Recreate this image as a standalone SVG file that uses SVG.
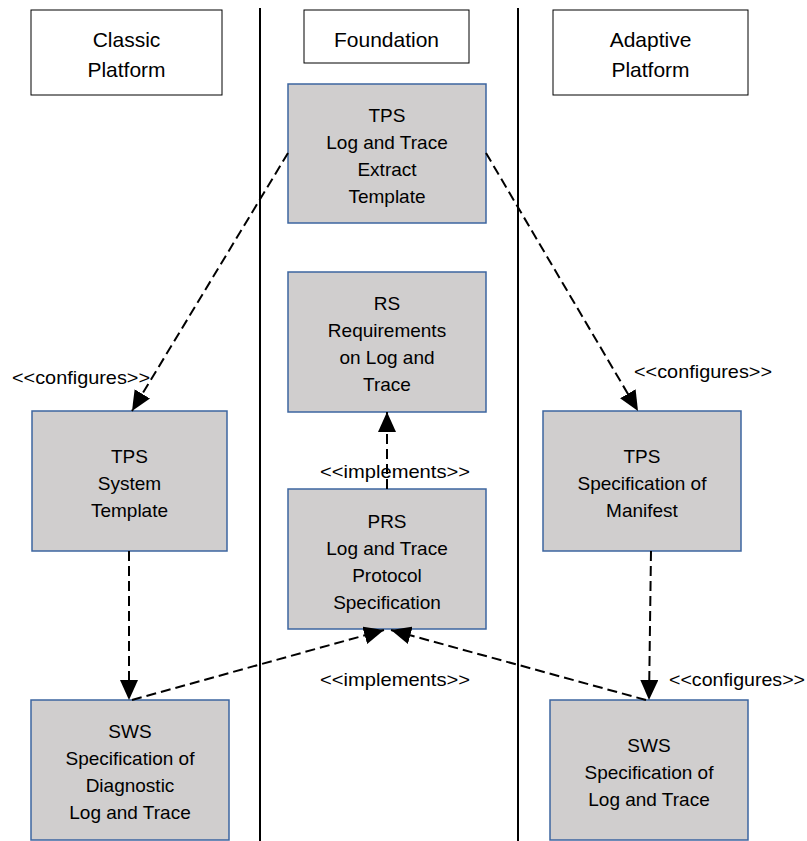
<svg xmlns="http://www.w3.org/2000/svg" width="807" height="841" viewBox="0 0 807 841">
<style>
.hdr{fill:#fff;stroke:#000;stroke-width:1}
.box{fill:#D0CECE;stroke:#3C65A0;stroke-width:1.5}
.t{font-family:"Liberation Sans","Open Sans",sans-serif;font-size:19px;fill:#000;text-anchor:middle}
.h{font-family:"Liberation Sans","Open Sans",sans-serif;font-size:21px;fill:#000;text-anchor:middle}
.lbl{font-family:"Liberation Sans","Open Sans",sans-serif;font-size:19px;fill:#000}
.c{fill:none;stroke:#000;stroke-width:2;stroke-dasharray:10 5}
.lane{stroke:#000;stroke-width:2}
</style>
<defs>
<marker id="ah" viewBox="0 0 20 18" refX="20" refY="9" markerWidth="20" markerHeight="18" markerUnits="userSpaceOnUse" orient="auto">
<path d="M0,0 L20,9 L0,18 Z" fill="#000"/>
</marker>
</defs>
<g id="lanes">
<line class="lane" x1="260" y1="8" x2="260" y2="841"/>
<line class="lane" x1="518" y1="8" x2="518" y2="841"/>
</g>
<g id="hdr-classic"><rect class="hdr" x="31" y="10" width="191" height="85"/><text class="h" x="126.5" y="47">Classic</text><text class="h" x="126.5" y="77">Platform</text></g>
<g id="hdr-foundation"><rect class="hdr" x="304" y="10" width="165" height="53"/><text class="h" x="386.5" y="47">Foundation</text></g>
<g id="hdr-adaptive"><rect class="hdr" x="553" y="10" width="195" height="85"/><text class="h" x="650.5" y="47">Adaptive</text><text class="h" x="650.5" y="77">Platform</text></g>

<g id="tps-extract"><rect class="box" x="288" y="84" width="198" height="139"/>
<text class="t" x="387" y="122">TPS</text><text class="t" x="387" y="149">Log and Trace</text><text class="t" x="387" y="176">Extract</text><text class="t" x="387" y="203">Template</text></g>
<g id="rs"><rect class="box" x="288" y="272" width="198" height="140"/>
<text class="t" x="387" y="310">RS</text><text class="t" x="387" y="337">Requirements</text><text class="t" x="387" y="364">on Log and</text><text class="t" x="387" y="391">Trace</text></g>
<g id="tps-system"><rect class="box" x="32" y="411" width="195" height="140"/>
<text class="t" x="129.5" y="463">TPS</text><text class="t" x="129.5" y="490">System</text><text class="t" x="129.5" y="517">Template</text></g>
<g id="prs"><rect class="box" x="288" y="489" width="198" height="140"/>
<text class="t" x="387" y="528">PRS</text><text class="t" x="387" y="555">Log and Trace</text><text class="t" x="387" y="582">Protocol</text><text class="t" x="387" y="609">Specification</text></g>
<g id="tps-manifest"><rect class="box" x="543" y="411" width="198" height="140"/>
<text class="t" x="642" y="463">TPS</text><text class="t" x="642" y="490">Specification of</text><text class="t" x="642" y="517">Manifest</text></g>
<g id="sws-diag"><rect class="box" x="31" y="700" width="198" height="140"/>
<text class="t" x="130" y="738">SWS</text><text class="t" x="130" y="765">Specification of</text><text class="t" x="130" y="792">Diagnostic</text><text class="t" x="130" y="819">Log and Trace</text></g>
<g id="sws-lt"><rect class="box" x="550" y="700" width="198" height="140"/>
<text class="t" x="649" y="752">SWS</text><text class="t" x="649" y="779">Specification of</text><text class="t" x="649" y="806">Log and Trace</text></g>

<g id="connectors">
<path class="c" d="M288,153 L132,411" marker-end="url(#ah)"/>
<path class="c" d="M486,153 L638,411" marker-end="url(#ah)"/>
<path class="c" d="M387,489 L387,412" marker-end="url(#ah)"/>
<path class="c" d="M129,551 L129,700" marker-end="url(#ah)"/>
<path class="c" d="M651,551 L649,700" marker-end="url(#ah)"/>
<path class="c" d="M132,700 L384,630" marker-end="url(#ah)"/>
<path class="c" d="M646,700 L391,630" marker-end="url(#ah)"/>
</g>
<g id="labels">
<text class="lbl" x="12" y="384" textLength="138" lengthAdjust="spacingAndGlyphs">&lt;&lt;configures&gt;&gt;</text>
<text class="lbl" x="634" y="378" textLength="138" lengthAdjust="spacingAndGlyphs">&lt;&lt;configures&gt;&gt;</text>
<text class="lbl" x="320" y="478" textLength="150" lengthAdjust="spacingAndGlyphs">&lt;&lt;implements&gt;&gt;</text>
<text class="lbl" x="320" y="686" textLength="150" lengthAdjust="spacingAndGlyphs">&lt;&lt;implements&gt;&gt;</text>
<text class="lbl" x="669" y="686" textLength="136" lengthAdjust="spacingAndGlyphs">&lt;&lt;configures&gt;&gt;</text>
</g>
</svg>
